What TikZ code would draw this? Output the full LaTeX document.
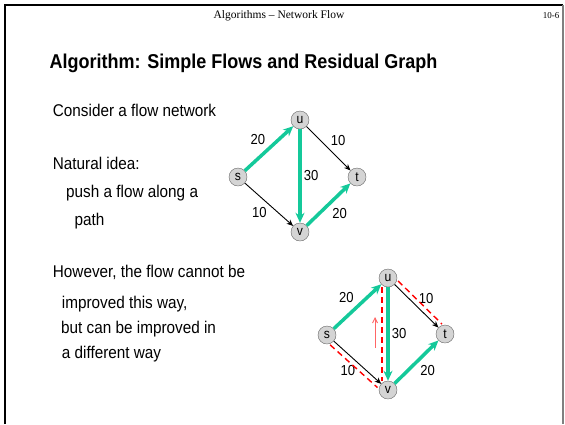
\documentclass[tikz,border=0pt]{standalone}
\usepackage{fontspec}
\setmainfont{Liberation Sans}[FakeStretch=0.9]
\newfontfamily\hdrfont{Liberation Serif}
\usetikzlibrary{arrows.meta,positioning}
\definecolor{flowgreen}{HTML}{14C99A}

\begin{document}
\begin{tikzpicture}[
x=1pt,y=-1pt,
body/.style={anchor=base west,inner sep=0pt,font=\fontsize{17}{20}\selectfont},
hdr/.style={anchor=base,inner sep=0pt,font=\hdrfont\fontsize{11.5}{13}\selectfont},
vert/.style={circle,draw=black!60,fill=black!17,minimum size=18pt,inner sep=0pt,
font=\fontsize{13.5}{14}\selectfont},
wt/.style={font=\fontsize{14.5}{16}\selectfont,inner sep=2pt},
flow/.style={-{Stealth[length=10pt,width=9pt]},line width=3.5pt,draw=flowgreen},
plain/.style={-{Stealth[length=6.5pt,width=5.5pt]},line width=0.9pt},
resid/.style={draw=red,dash pattern=on 6pt off 4pt,line width=1.4pt},
backarr/.style={-{Straight Barb[length=5pt,width=5pt]},draw=red!60,line width=0.9pt}
]
\useasboundingbox (0,0) rectangle (565,424);
\draw[line width=2pt] (5,424) -- (5,5) -- (563,5);
\draw[gray,line width=1.5pt] (563,5) -- (563,424);

\node[hdr] (head) at (279,18.5) {Algorithms – Network Flow};
\node[hdr,font=\hdrfont\fontsize{9}{10}\selectfont] (page) at (551,18.5) {10-6};
\node[body,font=\bfseries\fontsize{20}{24}\selectfont] (title) at (49.5,68.3)
{Algorithm: Simple Flows and Residual Graph};

\node[body] (consider) at (52.7,116.7) {Consider a flow network};
\node[body] (natural) at (52.7,169.3) {Natural idea:};
\node[body] (push) at (66,197.3) {push a flow along a};
\node[body] (path) at (74.3,225) {path};
\node[body] (however) at (52.7,277.7) {However, the flow cannot be};
\node[body] (improved) at (61.7,308.3) {improved this way,};
\node[body] (butcan) at (61,333.3) {but can be improved in};
\node[body] (diffway) at (61.7,358.3) {a different way};

\node[vert] (u1) at (300,120) {u};
\node[vert] (s1) at (238,177) {s};
\node[vert] (t1) at (357,177) {t};
\node[vert] (v1) at (300,232) {v};

\draw[plain] (u1) -- node[wt,above right] (w1ut) {10} (t1);
\draw[plain] (s1) -- node[wt,below left] (w1sv) {10} (v1);
\draw[flow] (s1) -- node[wt,above left] (w1su) {20} (u1);
\draw[flow] (u1) -- node[wt,right] (w1uv) {30} (v1);
\draw[flow] (v1) -- node[wt,below right] (w1vt) {20} (t1);

\node[vert] (u2) at (388,278) {u};
\node[vert] (s2) at (327,335) {s};
\node[vert] (t2) at (445,334) {t};
\node[vert] (v2) at (388,390) {v};

\draw[plain] (u2) -- node[wt,above right] (w2ut) {10} (t2);
\draw[plain] (s2) -- node[wt,below left] (w2sv) {10} (v2);
\draw[flow] (s2) -- node[wt,above left] (w2su) {20} (u2);
\draw[flow] (u2) -- node[wt,right] (w2uv) {30} (v2);
\draw[flow] (v2) -- node[wt,below right] (w2vt) {20} (t2);

\draw[resid,transform canvas={shift={(3.5,-3.5)}}] (u2) -- (t2);
\draw[resid,transform canvas={shift={(-3.7,3.7)}}] (s2) -- (v2);
\draw[resid,transform canvas={shift={(-6,0)}}] (u2) -- (v2);

\coordinate (bk0) at (375,348);
\coordinate (bk1) at (375,317);
\draw[backarr] (bk0) -- (bk1);
\end{tikzpicture}
\end{document}
